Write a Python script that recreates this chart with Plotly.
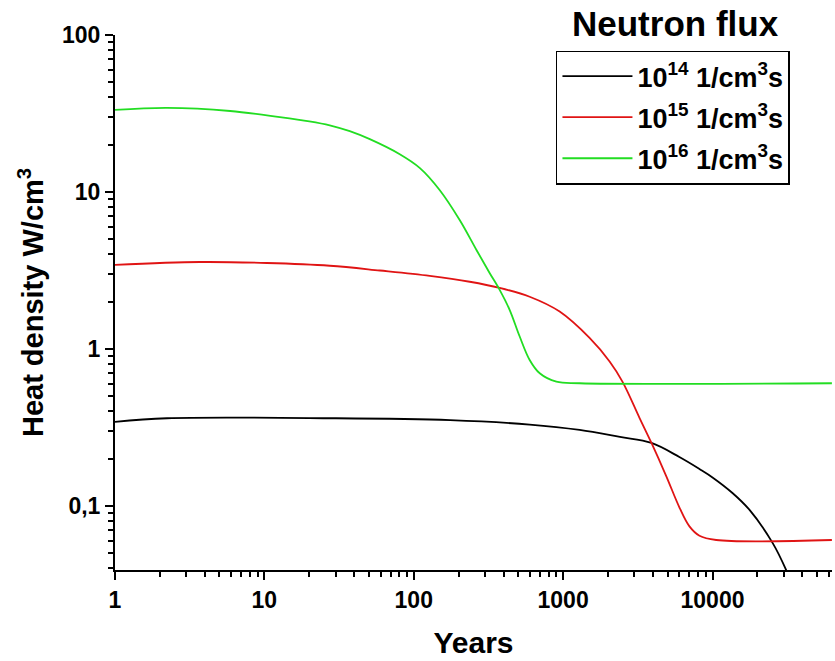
import plotly.graph_objects as go

# ---- data ----
black_years = [1, 2.23, 28.7, 175, 597, 1290, 2400, 3900, 6000, 8180, 10000, 13600, 17700, 25300, 31100, 34000]
black_vals = [0.343, 0.362, 0.362, 0.352, 0.33, 0.305, 0.275, 0.252, 0.205, 0.172, 0.152, 0.121, 0.0944,
              0.0580, 0.0391, 0.0315]

red_years = [1, 3.7, 10.4, 27.4, 59.3, 128, 237, 376, 597, 948, 1503, 2047, 2500, 3250, 3910,
             4900, 6010, 7010, 8180, 10590, 63000]
red_vals = [3.43, 3.58, 3.53, 3.39, 3.16, 2.92, 2.68, 2.45, 2.15, 1.73, 1.175, 0.832, 0.617, 0.363, 0.251,
            0.155, 0.0977, 0.0741, 0.0646, 0.0607, 0.0607]

green_years = [1, 2.23, 5.9, 12.7, 20, 27.4, 37.3, 50.8, 80.6, 110, 149, 203, 263, 322, 376, 439, 512, 597,
               697, 901, 1290, 63000]
green_vals = [33.3, 34.3, 32.8, 30.0, 28.2, 26.6, 24.4, 21.7, 17.4, 14.2, 10.3, 6.63, 4.27, 3.05, 2.38, 1.77,
              1.20, 0.851, 0.700, 0.619, 0.605, 0.605]

series_names = ["10<sup>14</sup> 1/cm<sup>3</sup>s", "10<sup>15</sup> 1/cm<sup>3</sup>s",
                "10<sup>16</sup> 1/cm<sup>3</sup>s"]
series_colors = ["#000000", "#e01414", "#22dd22"]

x_tickvals = [1, 10, 100, 1000, 10000]
x_ticktext = ["1", "10", "100", "1000", "10000"]
y_tickvals = [0.1, 1, 10, 100]
y_ticktext = ["0,1", "1", "10", "100"]

FONT = "Liberation Sans, Arial, sans-serif"

fig = go.Figure()
for i, (xs, ys, name, col) in enumerate(zip([black_years, red_years, green_years],
                                            [black_vals, red_vals, green_vals],
                                            series_names, series_colors)):
    fig.add_trace(go.Scatter(x=xs, y=ys, mode="lines", name=name, legendgroup=f"g{i}",
                             line=dict(color=col, width=1.8, shape="spline", smoothing=1.0)))

minor_x = [m * 10 ** d for d in range(0, 5) for m in range(2, 10)]
minor_y = [m * 10 ** d for d in range(-2, 2) for m in range(2, 10)]

fig.update_layout(
    width=835, height=661,
    margin=dict(l=115, r=3, t=35, b=91),
    paper_bgcolor="white", plot_bgcolor="white",
    font=dict(family=FONT, color="black"),
    showlegend=True,
    legend=dict(x=0.615, y=0.971, xanchor="left", yanchor="top",
                bordercolor="black", borderwidth=1.5, bgcolor="white",
                font=dict(family=FONT, size=27, color="black", weight="bold"),
                itemwidth=70, traceorder="grouped", tracegroupgap=3),
    annotations=[dict(text="Neutron flux", x=0.782, y=1.021, xref="paper", yref="paper",
                      xanchor="center", yanchor="middle", showarrow=False,
                      font=dict(family=FONT, size=35, color="black", weight="bold"))],
)

fig.update_xaxes(type="log", range=[0, 4.8],
                 showline=True, linecolor="black", linewidth=2, mirror=False,
                 showgrid=False, zeroline=False,
                 ticks="outside", ticklen=8, tickwidth=2, tickcolor="black",
                 tickvals=x_tickvals, ticktext=x_ticktext,
                 tickfont=dict(family=FONT, size=23, color="black", weight="bold"),
                 minor=dict(tickvals=minor_x, ticks="outside", ticklen=5, tickwidth=1.5,
                            tickcolor="black", showgrid=False),
                 title=dict(text="Years", standoff=20,
                            font=dict(family=FONT, size=30, color="black", weight="bold")))

fig.update_yaxes(type="log", range=[-1.408, 2],
                 showline=True, linecolor="black", linewidth=2, mirror=False,
                 showgrid=False, zeroline=False,
                 ticks="outside", ticklen=8, tickwidth=2, tickcolor="black",
                 tickvals=y_tickvals, ticktext=y_ticktext,
                 tickfont=dict(family=FONT, size=23, color="black", weight="bold"),
                 minor=dict(tickvals=minor_y, ticks="outside", ticklen=5, tickwidth=1.5,
                            tickcolor="black", showgrid=False),
                 title=dict(text="Heat density W/cm<sup>3</sup>", standoff=10,
                            font=dict(family=FONT, size=29, color="black", weight="bold")))

fig.write_html("out.html")
